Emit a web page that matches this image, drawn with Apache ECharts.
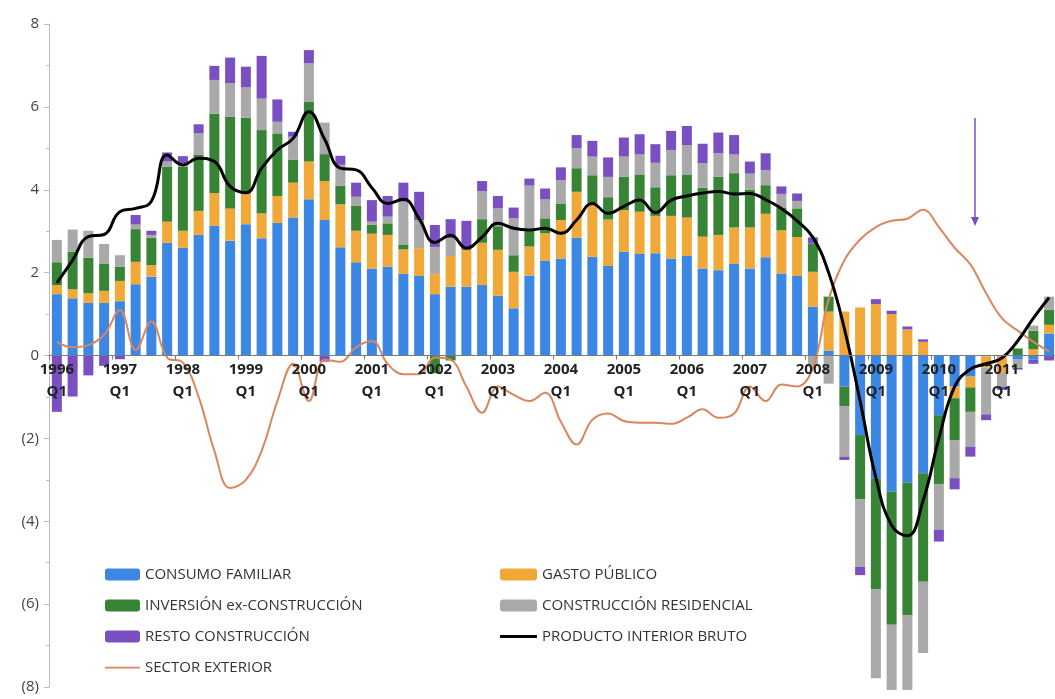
<!DOCTYPE html>
<html>
<head>
<meta charset="utf-8">
<script src="https://cdn.jsdelivr.net/npm/echarts@6/dist/echarts.min.js"></script>
<style>
html,body{margin:0;padding:0;background:#fff;}
#chart{width:1055px;height:699px;}
</style>
</head>
<body>
<div id="chart"></div>
<script>
const years = ['1996','1997','1998','1999','2000','2001','2002','2003','2004','2005','2006','2007','2008','2009','2010','2011'];
const quarters = ['Q1','Q2','Q3','Q4'];
const yTicks = [-8,-6,-4,-2,0,2,4,6,8];

const consumoFamiliar = [1.48,1.38,1.27,1.27,1.31,1.72,1.90,2.72, 2.60,2.91,3.13,2.77,3.17,2.83,3.20,3.33, 3.77,3.27,2.61,2.25,2.10,2.14,1.97,1.92, 1.48,1.66,1.66,1.70,1.44,1.14,1.93,2.29, 2.34,2.84,2.38,2.16,2.50,2.45,2.47,2.34, 2.40,2.10,2.06,2.21,2.10,2.37,1.98,1.92, 1.18,0.12,-0.75,-1.92,-2.96,-3.29,-3.07,-2.84, -1.44,-0.75,-0.51,-0.02,0,-0.10,-0.10,0.53];
const gastoPublico = [0.22,0.22,0.23,0.29,0.49,0.54,0.28,0.51, 0.41,0.58,0.79,0.78,0.74,0.60,0.65,0.84, 0.91,0.94,1.04,0.76,0.84,0.77,0.59,0.67, 0.49,0.74,0.89,1.02,1.11,0.88,0.70,0.66, 0.93,1.11,1.29,1.12,1.01,1.02,0.90,1.03, 0.93,0.77,0.85,0.88,0.99,1.05,1.04,0.94, 0.84,0.94,1.06,1.16,1.24,1.00,0.63,0.33, 0,-0.28,-0.26,-0.27,-0.42,0,0.15,0.21];
const inversionExConstruccion = [0.55,0.90,0.86,0.66,0.34,0.79,0.66,1.32, 1.54,1.36,1.91,2.21,1.83,2.01,1.51,0.55, 1.44,0.65,0.45,0.60,0.22,0.28,0.12,0, -0.43,-0.12,0,0.57,0.57,0.40,0.38,0.36, 0.40,0.57,0.68,0.54,0.80,0.90,0.69,0.98, 1.04,1.18,1.40,1.31,0.91,0.69,0.55,0.69, 0.68,0.36,-0.48,-1.55,-2.68,-3.21,-3.19,-2.62, -1.66,-1.01,-0.59,0,0,0.17,0.45,0.36];
const construccionResidencial = [0.54,0.54,0.65,0.47,0.28,0.11,0.07,0.13, 0.09,0.51,0.82,0.81,0.73,0.76,0.28,0.56, 0.93,0.76,0.50,0.22,0.07,0.16,1.03,0.68, 0.65,0.43,0,0.68,0.43,0.89,1.09,0.46, 0.56,0.48,0.45,0.49,0.49,0.48,0.59,0.61, 0.71,0.59,0.57,0.45,0.39,0.36,0.33,0.18, -0.24,-0.68,-1.21,-1.63,-2.15,-1.57,-1.81,-1.72, -1.11,-0.92,-0.84,-1.13,-0.33,-0.20,0.12,0.32];
const restoConstruccion = [-1.36,-0.99,-0.48,-0.25,-0.09,0.23,0.10,0.22, 0.17,0.22,0.34,0.62,0.50,1.03,0.54,0.12, 0.32,-0.15,0.22,0.34,0.52,0.50,0.46,0.68, 0.53,0.46,0.70,0.24,0.30,0.26,0.17,0.26, 0.31,0.32,0.38,0.47,0.46,0.49,0.45,0.46, 0.46,0.47,0.50,0.47,0.29,0.41,0.18,0.18, 0.15,0,-0.08,-0.20,0.12,0.08,0.07,0.06, -0.28,-0.27,-0.24,-0.14,-0.08,-0.04,-0.10,-0.12];
const productoInteriorBruto = [1.75,2.30,2.87,2.92,3.47,3.55,3.72,4.84, 4.60,4.76,4.68,4.08,3.93,4.52,4.96,5.24, 5.88,5.22,4.52,4.48,4.05,3.67,3.77,3.30, 2.73,2.90,2.59,2.86,3.19,3.07,3.03,3.07, 2.95,3.27,3.67,3.43,3.60,3.75,3.45,3.75, 3.85,3.92,3.96,3.90,3.91,3.76,3.55,3.25, 2.85,2.00,0.65,-1.10,-2.95,-4.10,-4.35,-3.50, -2.00,-0.75,-0.33,-0.20,-0.06,0.35,0.90,1.40];
const sectorExterior = [0.33,0.20,0.25,0.50,1.10,0.13,0.82,-0.05, -0.17,-1.00,-2.30,-3.20,-3.00,-2.30,-1.10,-0.20, -1.10,-0.10,-0.15,0.20,0.35,-0.20,-0.45,-0.45, -0.05,-0.10,-0.75,-1.38,-0.75,-0.95,-1.10,-0.90, -1.60,-2.15,-1.55,-1.40,-1.58,-1.62,-1.62,-1.65, -1.50,-1.30,-1.50,-1.40,-0.75,-1.10,-0.70,-0.75, -0.30,1.35,2.30,2.80,3.10,3.25,3.30,3.52, 3.10,2.60,2.20,1.50,0.90,0.60,0.33,0.10];

const categories = [];
years.forEach(y => quarters.forEach(q => categories.push(y + ' ' + q)));

const FONT = 'Open Sans';
const GRID_TOP = 24, GRID_BOTTOM = 12, H = 699;
const zeroOffset = -((H - GRID_TOP - GRID_BOTTOM) * (0 - yTicks[0]) / (yTicks[yTicks.length - 1] - yTicks[0]));

const chart = echarts.init(document.getElementById('chart'));

function barSeries(name, data, color) {
  return {
    name: name, type: 'bar', stack: 'total', data: data, barWidth: 10,
    clip: false, itemStyle: { color: color }, emphasis: { disabled: true }
  };
}
const lineIcon = (t) => 'path://M0,0 L40,0 L40,' + t + ' L0,' + t + ' Z';

chart.setOption({
  animation: false,
  backgroundColor: '#ffffff',
  grid: { left: 49, right: -2, top: GRID_TOP, bottom: GRID_BOTTOM, outerBoundsMode: 'none', containLabel: false },
  legend: [
    {
      left: 105, top: 567, orient: 'vertical', padding: 0, itemGap: 16,
      itemWidth: 35, itemHeight: 12,
      textStyle: { fontFamily: FONT, fontSize: 15, color: '#333' },
      data: ['CONSUMO FAMILIAR', 'INVERSIÓN ex-CONSTRUCCIÓN', 'RESTO CONSTRUCCIÓN',
        { name: 'SECTOR EXTERIOR', icon: lineIcon(2) }]
    },
    {
      left: 500, top: 567, orient: 'vertical', padding: 0, itemGap: 16,
      itemWidth: 37, itemHeight: 12,
      textStyle: { fontFamily: FONT, fontSize: 15, color: '#333' },
      data: ['GASTO PÚBLICO', 'CONSTRUCCIÓN RESIDENCIAL',
        { name: 'PRODUCTO INTERIOR BRUTO', icon: lineIcon(3.2) }]
    }
  ],
  xAxis: {
    type: 'category', data: categories, boundaryGap: true, z: 10,
    offset: zeroOffset,
    axisLine: { onZero: false, lineStyle: { color: '#6f7d8a', width: 1 } },
    axisTick: { show: true, interval: (i) => i % 4 === 0, length: 4, lineStyle: { color: '#6f7d8a' } },
    axisLabel: {
      interval: (i) => i % 4 === 0, margin: 3,
      formatter: (v) => v.replace(' ', '\n'),
      fontFamily: FONT, fontSize: 15, fontWeight: 'bold', color: '#222', lineHeight: 22
    },
    splitLine: { show: false }
  },
  yAxis: {
    type: 'value', min: yTicks[0], max: yTicks[yTicks.length - 1], interval: 2,
    axisLine: { show: true, lineStyle: { color: '#bdbdbd' } },
    axisTick: { show: true, length: 5, lineStyle: { color: '#bdbdbd' } },
    minorTick: { show: true, splitNumber: 2, length: 3, lineStyle: { color: '#bdbdbd' } },
    splitLine: { show: false },
    axisLabel: {
      margin: 10, fontFamily: FONT, fontSize: 15, color: '#444',
      formatter: (v) => v < 0 ? '(' + (-v) + ')' : String(v)
    }
  },
  series: [
    barSeries('CONSUMO FAMILIAR', consumoFamiliar, '#3c87e3'),
    barSeries('GASTO PÚBLICO', gastoPublico, '#f0a838'),
    barSeries('INVERSIÓN ex-CONSTRUCCIÓN', inversionExConstruccion, '#378437'),
    barSeries('CONSTRUCCIÓN RESIDENCIAL', construccionResidencial, '#a9a9a9'),
    barSeries('RESTO CONSTRUCCIÓN', restoConstruccion, '#7a4fc2'),
    {
      name: 'SECTOR EXTERIOR', type: 'line', data: sectorExterior, smooth: 0.4,
      symbol: 'none', z: 4, lineStyle: { color: '#d9875f', width: 2 },
      itemStyle: { color: '#d9875f' }, emphasis: { disabled: true }
    },
    {
      name: 'PRODUCTO INTERIOR BRUTO', type: 'line', data: productoInteriorBruto, smooth: 0.45,
      symbol: 'none', z: 5, lineStyle: { color: '#000', width: 3 },
      itemStyle: { color: '#000' }, emphasis: { disabled: true }
    }
  ],
  graphic: [
    { type: 'line', shape: { x1: 975, y1: 118, x2: 975, y2: 220 }, style: { stroke: '#7a4fc2', lineWidth: 1.5 } },
    { type: 'polygon', shape: { points: [[971, 217], [979, 217], [975, 226]] }, style: { fill: '#7a4fc2' } }
  ]
});
</script>
</body>
</html>
